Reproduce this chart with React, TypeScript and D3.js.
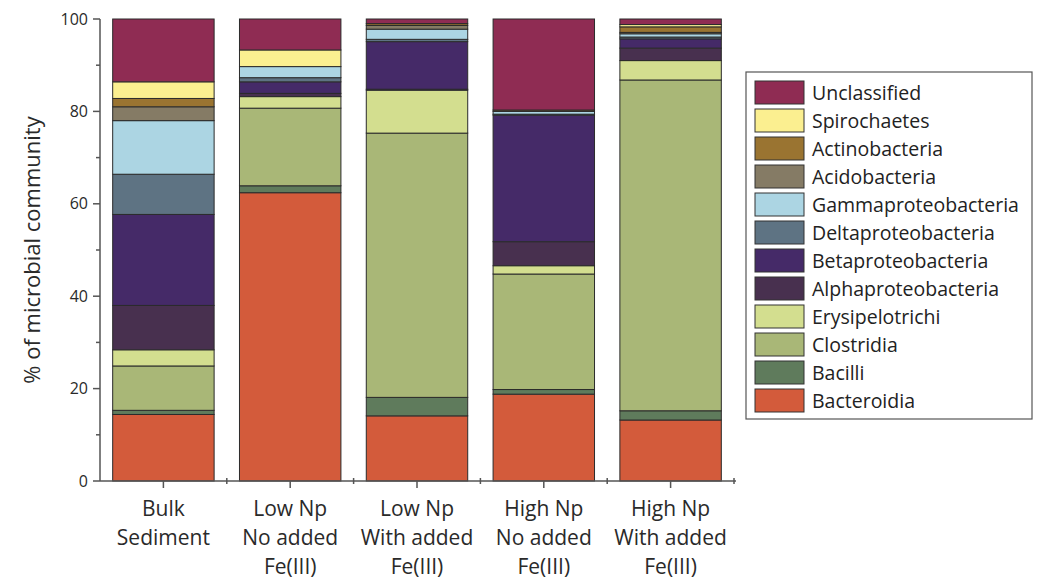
import React from 'react';
import * as d3 from 'd3';

// samples (x categories), each label split into lines
const samples = ['Bulk Sediment', 'Low Np No added', 'Low Np With added', 'High Np No added', 'High Np With added'];
const sampleLines = [
  ['Bulk', 'Sediment'],
  ['Low Np', 'No added', 'Fe(III)'],
  ['Low Np', 'With added', 'Fe(III)'],
  ['High Np', 'No added', 'Fe(III)'],
  ['High Np', 'With added', 'Fe(III)'],
];

// taxa, bottom of stack first
const taxa = [
  'Bacteroidia', 'Bacilli', 'Clostridia', 'Erysipelotrichi', 'Alphaproteobacteria',
  'Betaproteobacteria', 'Deltaproteobacteria', 'Gammaproteobacteria', 'Acidobacteria',
  'Actinobacteria', 'Spirochaetes', 'Unclassified',
];
const colors = [
  '#d35b3b', '#5f7b5c', '#a9b777', '#d3de8f', '#48304f',
  '#452a68', '#5e7383', '#acd5e3', '#857b65',
  '#9a7431', '#fbef90', '#8f2c53',
];

// % of community per sample (same order as samples)
const bacteroidia = [14.4, 62.4, 14.1, 18.8, 13.2];
const bacilli = [0.9, 1.5, 4.0, 1.0, 2.0];
const clostridia = [9.6, 16.8, 57.2, 25.0, 71.6];
const erysipelotrichi = [3.5, 2.5, 9.3, 1.8, 4.2];
const alphaproteobacteria = [9.6, 0.7, 0.2, 5.2, 2.7];
const betaproteobacteria = [19.7, 2.5, 10.3, 27.4, 2.0];
const deltaproteobacteria = [8.7, 0.9, 0.5, 0.2, 0.4];
const gammaproteobacteria = [11.6, 2.4, 2.2, 0.6, 0.7];
const acidobacteria = [3.0, 0, 0.8, 0, 0.3];
const actinobacteria = [1.8, 0, 0.4, 0.3, 1.2];
const spirochaetes = [3.6, 3.6, 0, 0, 0.5];
const unclassified = [13.6, 6.7, 1.0, 19.7, 1.2];

const series = [
  bacteroidia, bacilli, clostridia, erysipelotrichi, alphaproteobacteria,
  betaproteobacteria, deltaproteobacteria, gammaproteobacteria, acidobacteria,
  actinobacteria, spirochaetes, unclassified,
];

const yTicks = [0, 20, 40, 60, 80, 100];
const yMinor = [10, 30, 50, 70, 90];

const W = 1041;
const H = 581;
const FONT = '"Open Sans", "Noto Sans", sans-serif';

export default function App() {
  const rows = samples.map((s, i) => {
    const r: Record<string, any> = { sample: s };
    taxa.forEach((t, j) => { r[t] = series[j][i]; });
    return r;
  });
  const stacked = d3.stack<Record<string, any>>().keys(taxa)(rows);

  const x = d3.scaleBand<string>().domain(samples).range([100, 734]).paddingInner(0.2).paddingOuter(0.1);
  const y = d3.scaleLinear().domain([0, 100]).range([481, 19]);
  const x0 = 100;
  const x1 = 736;
  const step = x.step();
  const startX = x.range()[0];

  // legend
  const legX = 746, legY = 72, legW = 286, legH = 347;
  const rowH = 28;
  const legendItems = taxa.map((t, i) => ({ t, c: colors[i] })).reverse();

  return (
    <svg width={W} height={H} style={{ position: 'absolute', left: 0, top: 0, background: '#fff' }}
      fontFamily={FONT}>
      {/* bars */}
      {stacked.map((layer, li) => (
        <g key={layer.key}>
          {layer.map((d, i) => {
            const h = y(d[0]) - y(d[1]);
            if (h <= 0) return null;
            return (
              <rect key={i} x={x(samples[i])} y={y(d[1])} width={x.bandwidth()} height={h}
                fill={colors[li]} stroke="#2b2b2b" strokeWidth={1} />
            );
          })}
        </g>
      ))}

      {/* y axis */}
      <line x1={x0} x2={x0} y1={y(100)} y2={y(0)} stroke="#555" strokeWidth={1.5} />
      {yTicks.map(t => (
        <g key={t}>
          <line x1={x0 - 7} x2={x0} y1={y(t)} y2={y(t)} stroke="#555" strokeWidth={1.5} />
          <text x={x0 - 12} y={y(t)} dy="0.35em" textAnchor="end" fontSize={16} fill="#2a2a2a">{t}</text>
        </g>
      ))}
      {yMinor.map(t => (
        <line key={t} x1={x0 - 4} x2={x0} y1={y(t)} y2={y(t)} stroke="#555" strokeWidth={1.5} />
      ))}
      <text transform={`translate(40,${y(50)}) rotate(-90)`} textAnchor="middle" fontSize={22} fill="#2a2a2a">
        % of microbial community
      </text>

      {/* x axis */}
      <line x1={x0} x2={x1} y1={y(0)} y2={y(0)} stroke="#555" strokeWidth={1.5} />
      {samples.map(s => (
        <line key={s} x1={x(s)! + x.bandwidth() / 2} x2={x(s)! + x.bandwidth() / 2}
          y1={y(0)} y2={y(0) + 7} stroke="#555" strokeWidth={1.5} />
      ))}
      {d3.range(1, 6).map(i => (
        <line key={i} x1={startX + i * step} x2={startX + i * step} y1={y(0) - 3} y2={y(0) + 3}
          stroke="#555" strokeWidth={1.5} />
      ))}
      {sampleLines.map((lines, i) => (
        <text key={i} textAnchor="middle" fontSize={21} fill="#2a2a2a">
          {lines.map((ln, k) => (
            <tspan key={k} x={x(samples[i])! + x.bandwidth() / 2} y={516 + k * 29}>{ln}</tspan>
          ))}
        </text>
      ))}

      {/* legend */}
      <rect x={legX} y={legY} width={legW} height={legH} fill="#fff" stroke="#555" strokeWidth={1.2} />
      {legendItems.map((d, i) => (
        <g key={d.t}>
          <rect x={755} y={81 + i * rowH} width={49} height={23} fill={d.c} stroke="#333" strokeWidth={1} />
          <text x={812} y={81 + i * rowH + 12} dy="0.35em" fontSize={19.5} fill="#222">{d.t}</text>
        </g>
      ))}
    </svg>
  );
}
